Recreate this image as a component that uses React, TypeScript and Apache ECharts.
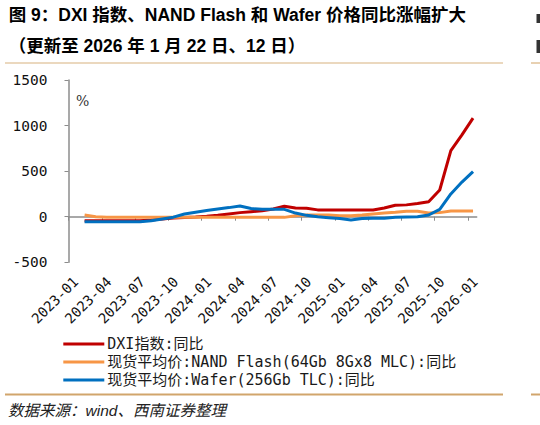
import React, { useEffect, useRef } from "react";
import * as echarts from "echarts";

// Monthly observation months (one point per month)
const months = [
  "2023-02","2023-03","2023-04","2023-05","2023-06","2023-07","2023-08","2023-09","2023-10","2023-11","2023-12",
  "2024-01","2024-02","2024-03","2024-04","2024-05","2024-06","2024-07","2024-08","2024-09","2024-10","2024-11","2024-12",
  "2025-01","2025-02","2025-03","2025-04","2025-05","2025-06","2025-07","2025-08","2025-09","2025-10","2025-11","2025-12",
  "2026-01",
];

// DXI指数:同比 (%)
const dxi = [
  -44, -44, -44, -44, -44, -44, -35, -25, -15, -8, -2,
  5, 15, 30, 45, 55, 65, 85, 115, 95, 92, 75, 74,
  74, 74, 74, 74, 95, 125, 130, 145, 165, 293, 725, 898,
  1081,
];

// 现货平均价:NAND Flash(64Gb 8Gx8 MLC):同比 (%)
const nand = [
  19, 0, -5, -5, -5, -5, -5, -5, -5, -5, -5,
  -5, -5, -5, -5, -5, -5, -5, -7, 10, 19, 19, 19,
  10, 10, 19, 30, 40, 48, 60, 60, 40, 45, 63, 63,
  63,
];

// 现货平均价:Wafer(256Gb TLC):同比 (%)
const wafer = [
  -55, -55, -55, -55, -55, -55, -45, -25, -5, 30, 50,
  68, 85, 100, 118, 90, 81, 81, 81, 40, 15, 0, -10,
  -20, -36, -20, -18, -18, -7, -2, 0, 19, 81, 250, 380,
  495,
];

const tickLabels = [
  "2023-01","2023-04","2023-07","2023-10","2024-01","2024-04","2024-07",
  "2024-10","2025-01","2025-04","2025-07","2025-10","2026-01",
];

const seriesNames = [
  "DXI指数:同比",
  "现货平均价:NAND Flash(64Gb 8Gx8 MLC):同比",
  "现货平均价:Wafer(256Gb TLC):同比",
];
const colors = ["#C00000", "#F79646", "#0070C0"];

const START_YEAR = 2023;
const monthIndex = (m: string) => {
  const [y, mo] = m.split("-").map(Number);
  return (y - START_YEAR) * 12 + (mo - 1);
};
const MID = 0.45; // observations sit mid-month
const LABEL_SHIFT = 0.65; // rotated labels sit a little right of their tick

const toPoints = (vals: number[]) => vals.map((v, i) => [monthIndex(months[i]) + MID, v]);

const tickValues = tickLabels.map((t) => monthIndex(t));
const labelValues = tickValues.map((v) => v + LABEL_SHIFT);

const MONO = "'DejaVu Sans Mono', 'Noto Sans CJK SC', monospace";

export default function App() {
  const ref = useRef<HTMLDivElement>(null);
  useEffect(() => {
    if (!ref.current) return;
    const chart = echarts.init(ref.current, undefined, { renderer: "svg" });
    const xMax = 36.78;
    chart.setOption({
      animation: false,
      backgroundColor: "#ffffff",
      grid: { left: 68.5, right: 63.3, top: 80, bottom: 162.7, containLabel: false },
      xAxis: [
        {
          type: "value",
          min: 0,
          max: xMax,
          axisLine: { show: true, onZero: true, lineStyle: { color: "#8c8c8c", width: 1.5 } },
          axisTick: { show: true, length: 4, customValues: tickValues, lineStyle: { color: "#8c8c8c", width: 1 } },
          axisLabel: { show: false },
          splitLine: { show: false },
        },
        {
          type: "value",
          min: 0,
          max: xMax,
          position: "bottom",
          axisLine: { show: false, onZero: false },
          axisTick: { show: false },
          splitLine: { show: false },
          axisLabel: {
            show: true,
            customValues: labelValues,
            rotate: 45,
            margin: 17,
            fontSize: 14,
            fontFamily: MONO,
            color: "#111",
            formatter: (v: number) => {
              const i = tickValues.indexOf(Math.round(v - LABEL_SHIFT));
              return i >= 0 ? tickLabels[i] : "";
            },
          },
        },
      ],
      yAxis: {
        type: "value",
        min: -500,
        max: 1500,
        interval: 500,
        axisLine: { show: true, lineStyle: { color: "#8c8c8c", width: 1.5 } },
        axisTick: { show: true, length: 4, lineStyle: { color: "#8c8c8c" } },
        axisLabel: {
          margin: 21,
          fontSize: 14.5,
          fontFamily: MONO,
          color: "#111",
          formatter: (v: number) => String(v),
        },
        splitLine: { show: false },
      },
      legend: {
        orient: "vertical",
        left: 58.3,
        top: 330,
        icon: "rect",
        itemWidth: 41,
        itemHeight: 3,
        itemGap: 0,
        textStyle: { fontSize: 15, fontFamily: MONO, color: "#1a1a1a", lineHeight: 18, padding: [0, 0, 0, -2] },
        data: seriesNames,
      },
      series: [dxi, nand, wafer].map((vals, i) => ({
        name: seriesNames[i],
        type: "line",
        xAxisIndex: 0,
        data: toPoints(vals),
        symbol: "none",
        lineStyle: { color: colors[i], width: 3 },
        itemStyle: { color: colors[i] },
        z: 2 + i,
      })),
      graphic: [
        {
          type: "text",
          left: 8.7,
          top: 6,
          style: {
            text: "图 9：DXI 指数、NAND Flash 和 Wafer 价格同比涨幅扩大",
            font: "bold 17.5px 'Liberation Sans', 'Noto Sans CJK SC', sans-serif",
            fill: "#000",
          },
        },
        {
          type: "text",
          left: 8.7,
          top: 37,
          style: {
            text: "（更新至 2026 年 1 月 22 日、12 日）",
            font: "bold 17.5px 'Liberation Sans', 'Noto Sans CJK SC', sans-serif",
            fill: "#000",
          },
        },
        {
          type: "line",
          shape: { x1: 5, y1: 63, x2: 503, y2: 63 },
          style: { stroke: "#D8B27E", lineWidth: 1.2 },
        },
        {
          type: "line",
          shape: { x1: 5, y1: 394.5, x2: 503, y2: 394.5 },
          style: { stroke: "#D1A56C", lineWidth: 2 },
        },
        {
          type: "text",
          left: 76,
          top: 94,
          style: { text: "%", font: "14px 'DejaVu Serif', serif", fill: "#333" },
        },
        {
          type: "text",
          left: 8,
          top: 403,
          style: {
            text: "数据来源：wind、西南证券整理",
            font: "italic 15.5px 'Liberation Sans', 'Noto Sans CJK SC', sans-serif",
            fill: "#222",
          },
        },
        { type: "rect", shape: { x: 536.5, y: 14, width: 3.5, height: 9 }, style: { fill: "#333" } },
        { type: "rect", shape: { x: 536.5, y: 40, width: 3.5, height: 13 }, style: { fill: "#333" } },
        {
          type: "line",
          shape: { x1: 531, y1: 63, x2: 540, y2: 63 },
          style: { stroke: "#D8B27E", lineWidth: 1.2 },
        },
        {
          type: "line",
          shape: { x1: 531, y1: 394.5, x2: 540, y2: 394.5 },
          style: { stroke: "#D1A56C", lineWidth: 2 },
        },
      ],
    });
    return () => chart.dispose();
  }, []);
  return (
    <div
      ref={ref}
      style={{ position: "absolute", left: 0, top: 0, width: 540, height: 425 }}
    />
  );
}
